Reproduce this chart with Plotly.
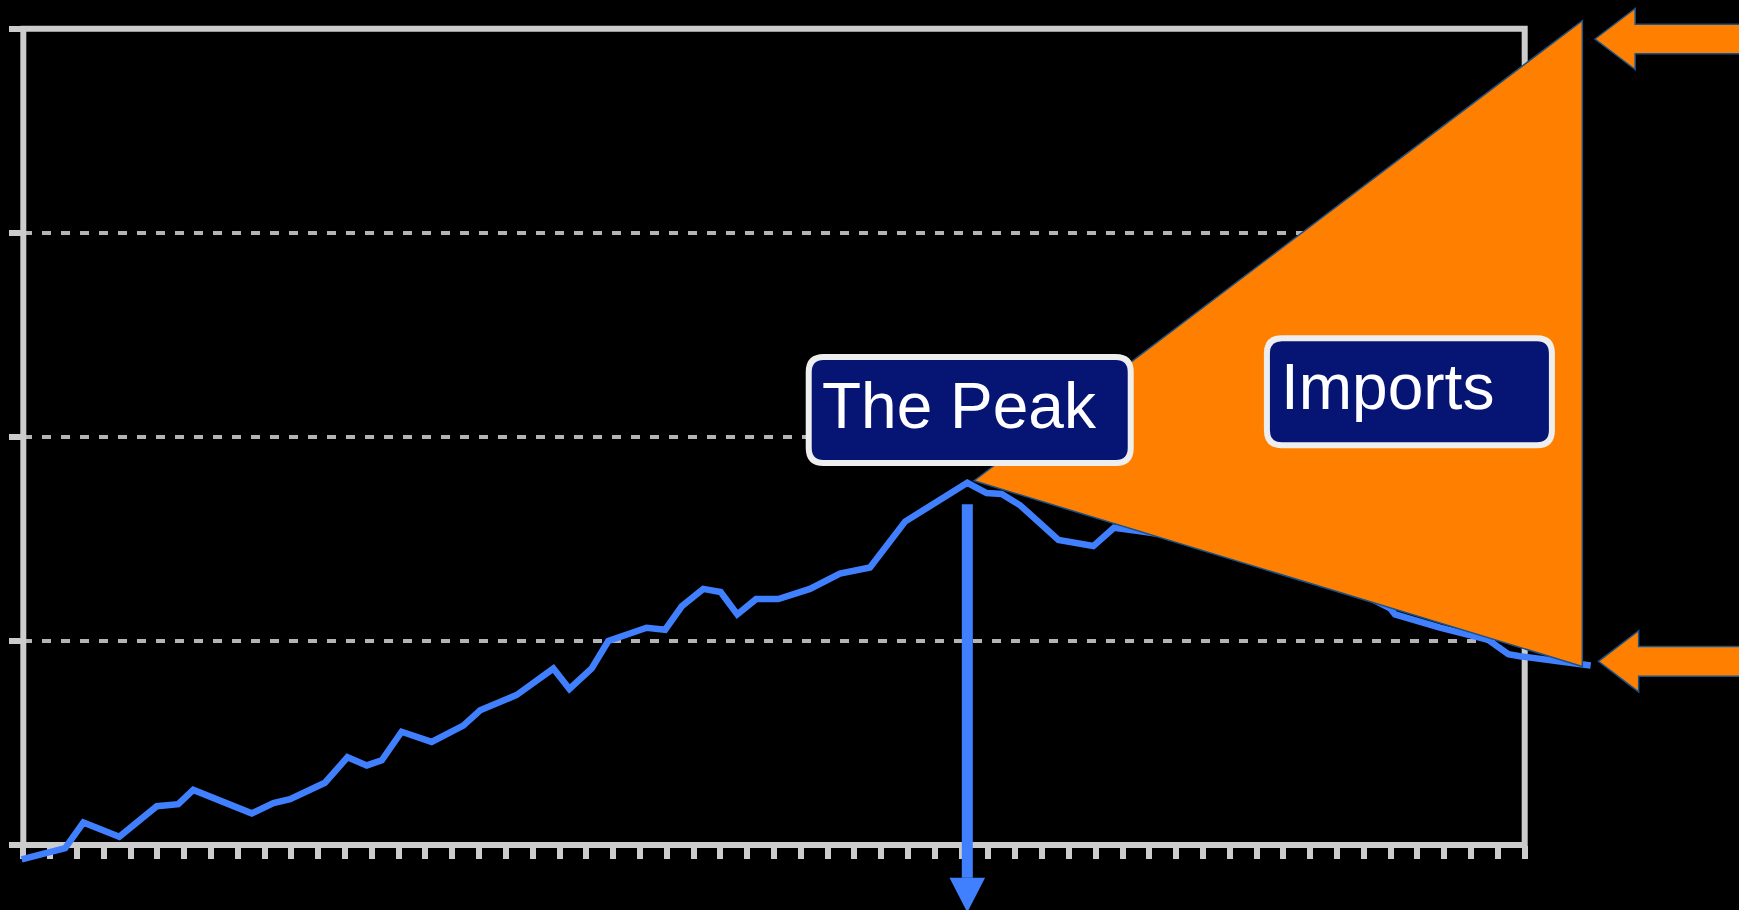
import plotly.graph_objects as go

# production curve, x in tick units (56 tick intervals across the frame), y in frame units (grid every 2)
prod_x = [-0.06, 1.56, 2.24, 3.58, 4.98, 5.78, 6.34, 8.52, 9.33, 9.95, 11.25, 12.09, 12.81,
          13.37, 14.11, 15.23, 16.41, 17.04, 18.40, 19.77, 20.37, 21.20, 21.82, 23.25, 23.94,
          24.56, 25.36, 26.01, 26.63, 27.33, 28.16, 29.34, 30.46, 31.58, 32.89, 35.21, 35.93,
          36.49, 37.18, 38.61, 39.91, 40.68, 41.53, 43.89, 46.13, 48.74, 50.98, 51.16, 52.84,
          54.64, 55.39, 55.82, 58.46]
prod_y = [-0.14, -0.03, 0.22, 0.08, 0.38, 0.40, 0.54, 0.31, 0.41, 0.45, 0.61, 0.86, 0.78,
          0.83, 1.11, 1.01, 1.17, 1.32, 1.47, 1.73, 1.53, 1.73, 2.00, 2.13, 2.11,
          2.34, 2.51, 2.48, 2.26, 2.41, 2.41, 2.51, 2.66, 2.72, 3.17, 3.55, 3.45,
          3.44, 3.33, 2.99, 2.93, 3.11, 3.08, 2.99, 2.83, 2.62, 2.32, 2.26, 2.13,
          2.01, 1.87, 1.85, 1.76]

# imports wedge
wedge_tip = (35.46, 3.57)
wedge_end_x = 58.15
consumption_end = 8.08
production_end = 1.75

# side arrows pointing at consumption / production
side_arrow_tip_x = [58.62, 58.75]
side_arrow_y = [7.90, 1.80]

peak_arrow_top = 3.34
peak_arrow_tip = -0.66

# label boxes (centre x, centre y, width px, height px) and their text start
peak_box = (35.30, 4.263, 322, 106)
imports_box = (51.70, 4.443, 285, 107)
peak_text = (29.75, 4.306)
imports_text = (46.87, 4.492)

W, H = 1739, 910
FRAME_L, FRAME_R, FRAME_T, FRAME_B = 23.3, 1524.7, 28.8, 845.0
LW = 6
NX, NY = 56, 8
ux = (FRAME_R - FRAME_L) / NX
uy = (FRAME_B - FRAME_T) / NY

ORANGE = "#FF8000"
OUTLINE = "#1A5288"
BLUE = "#4080FF"
NAVY = "#061474"
FRAME = "#CCCCCC"

fig = go.Figure()

# empty trace keeps the framed subplot alive
fig.add_trace(go.Scatter(x=[], y=[], xaxis="x", yaxis="y", showlegend=False, hoverinfo="skip"))

fig.add_trace(go.Scatter(x=prod_x, y=prod_y, xaxis="x2", yaxis="y2", mode="lines",
                         line=dict(color=BLUE, width=6.5), showlegend=False, hoverinfo="skip"))

shapes = []

# chart frame (drawn on the full-page axes so its stroke is not clipped)
shapes.append(dict(type="rect", xref="x2", yref="y2", layer="between",
                   x0=0, x1=NX, y0=0, y1=NY, line=dict(color=FRAME, width=LW)))

# imports wedge
tx, ty = wedge_tip
shapes.append(dict(type="path", xref="x2", yref="y2", layer="above",
                   path=f"M {tx},{ty} L {wedge_end_x},{consumption_end} L {wedge_end_x},{production_end} Z",
                   fillcolor=ORANGE, line=dict(color=OUTLINE, width=1.5)))

# side block arrows
head_len, head_half, shaft_half, end_x = 1.5, 0.30, 0.145, 66
for ax_x, ay in zip(side_arrow_tip_x, side_arrow_y):
    hx = ax_x + head_len
    p = (f"M {ax_x},{ay} L {hx},{ay + head_half} L {hx},{ay + shaft_half} L {end_x},{ay + shaft_half} "
         f"L {end_x},{ay - shaft_half} L {hx},{ay - shaft_half} L {hx},{ay - head_half} Z")
    shapes.append(dict(type="path", xref="x2", yref="y2", layer="above", path=p,
                       fillcolor=ORANGE, line=dict(color=OUTLINE, width=1.5)))

# peak arrow straight down from the peak
peak_i = prod_y.index(max(prod_y))
px = prod_x[peak_i]
head_base = peak_arrow_tip + 0.34
shapes.append(dict(type="line", xref="x2", yref="y2", layer="above",
                   x0=px, x1=px, y0=peak_arrow_top, y1=head_base,
                   line=dict(color=BLUE, width=11)))
hw = 17.8 / ux
shapes.append(dict(type="path", xref="x2", yref="y2", layer="above",
                   path=f"M {px - hw},{head_base} L {px + hw},{head_base} L {px},{peak_arrow_tip} Z",
                   fillcolor=BLUE, line=dict(width=0)))


def rounded_box(w, h, r):
    a, b = w / 2, h / 2
    return (f"M {-a + r},{-b} L {a - r},{-b} Q {a},{-b} {a},{-b + r} L {a},{b - r} Q {a},{b} {a - r},{b} "
            f"L {-a + r},{b} Q {-a},{b} {-a},{b - r} L {-a},{-b + r} Q {-a},{-b} {-a + r},{-b} Z")


for bx, by, bw, bh in [peak_box, imports_box]:
    shapes.append(dict(type="path", xref="x2", yref="y2", layer="above",
                       xsizemode="pixel", ysizemode="pixel", xanchor=bx, yanchor=by,
                       path=rounded_box(bw, bh, 15),
                       fillcolor=NAVY, line=dict(color="#EEEEEE", width=6)))

annotations = []
for (lx, ly), label in [(peak_text, "The Peak"), (imports_text, "Imports")]:
    annotations.append(dict(x=lx, y=ly, xref="x2", yref="y2", text=label, showarrow=False,
                            xanchor="left", yanchor="middle", borderpad=0,
                            font=dict(family="Arial, Liberation Sans", size=64, color="white")))

fig.update_layout(
    width=W, height=H,
    margin=dict(l=0, r=0, t=0, b=0),
    paper_bgcolor="black", plot_bgcolor="rgba(0,0,0,0)",
    showlegend=False,
    shapes=shapes, annotations=annotations,
    xaxis=dict(domain=[FRAME_L / W, FRAME_R / W], range=[0, NX], anchor="y",
               showline=False,
               ticks="outside", ticklen=13, tickwidth=6, tickcolor=FRAME,
               tickmode="linear", tick0=0, dtick=1,
               showticklabels=False, showgrid=False, zeroline=False),
    yaxis=dict(domain=[(H - FRAME_B) / H, (H - FRAME_T) / H], range=[0, NY], anchor="x",
               showline=False,
               ticks="outside", ticklen=13, tickwidth=6, tickcolor=FRAME,
               tickmode="linear", tick0=0, dtick=2,
               showticklabels=False, showgrid=True, gridcolor="#B4B4B4", gridwidth=3.5,
               griddash="9px,10px", zeroline=False),
    xaxis2=dict(domain=[0, 1], range=[-FRAME_L / ux, (W - FRAME_L) / ux], anchor="y2", visible=False),
    yaxis2=dict(domain=[0, 1], range=[-(H - FRAME_B) / uy, FRAME_B / uy], anchor="x2", visible=False),
)

fig.write_html("out.html", config={"displayModeBar": False},
               post_script="document.body.style.margin='0';document.body.style.background='black';")
